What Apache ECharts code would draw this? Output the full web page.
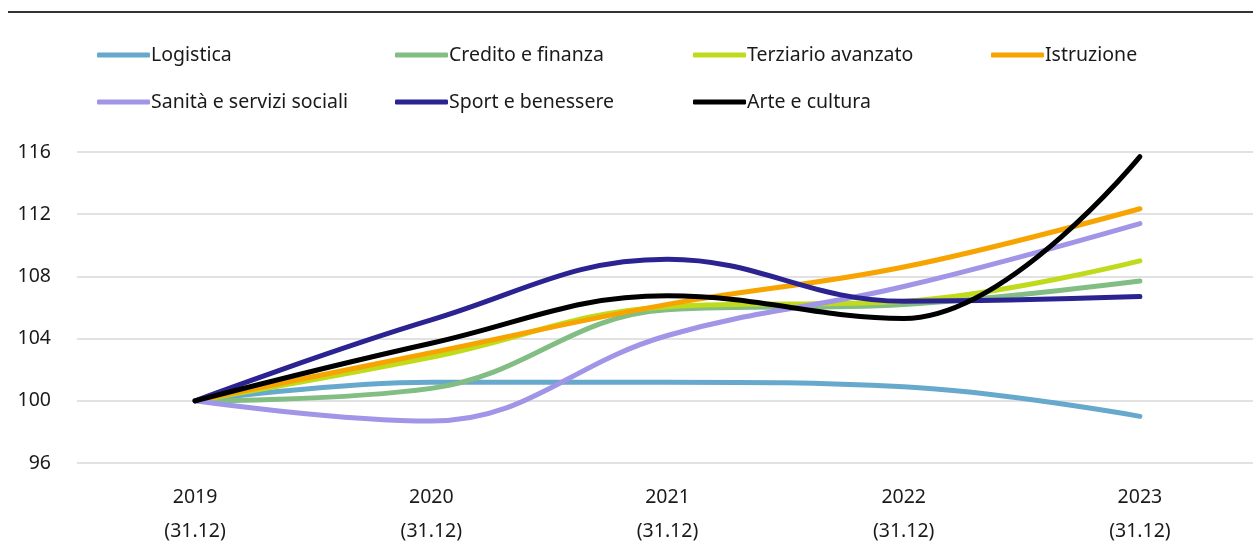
<!DOCTYPE html>
<html><head><meta charset="utf-8">
<script src="https://cdn.jsdelivr.net/npm/echarts@6/dist/echarts.min.js"></script>
<style>html,body{margin:0;padding:0;background:#fff}#c{width:1253px;height:543px}</style>
</head><body><div id="c"></div>
<script>
const categories = ['2019\n(31.12)', '2020\n(31.12)', '2021\n(31.12)', '2022\n(31.12)', '2023\n(31.12)'];
const yTicks = [96, 100, 104, 108, 112, 116];
const logistica = [100, 101.2, 101.2, 100.9, 99.0];
const credito = [100, 100.8, 105.85, 106.2, 107.7];
const terziario = [100, 102.8, 106.05, 106.4, 109.0];
const istruzione = [100, 103.1, 106.2, 108.6, 112.35];
const sanita = [100, 98.7, 104.2, 107.35, 111.4];
const sport = [100, 105.2, 109.1, 106.4, 106.7];
const arte = [100, 103.7, 106.75, 105.3, 115.7];
const names = ['Logistica', 'Credito e finanza', 'Terziario avanzato', 'Istruzione', 'Sanità e servizi sociali', 'Sport e benessere', 'Arte e cultura'];
const colors = ['#67a8cd', '#82bd83', '#c0db1c', '#f7a400', '#a095e6', '#2b2391', '#000000'];
const values = [logistica, credito, terziario, istruzione, sanita, sport, arte];

const FONT = 'Noto Sans';
const legendPos = [[97, 45], [395, 45], [693, 45], [991, 45], [97, 92], [395, 92], [693, 92]];
const chart = echarts.init(document.getElementById('c'));
chart.setOption({
  animation: false,
  textStyle: { fontFamily: FONT },
  graphic: [{ type: 'line', shape: { x1: 8, y1: 12, x2: 1253, y2: 12 }, style: { stroke: '#333', lineWidth: 2 } }],
  legend: names.map((n, i) => ({
    data: [n], left: legendPos[i][0], top: legendPos[i][1],
    itemWidth: 53, itemHeight: 5, itemGap: 0, padding: 0,
    icon: 'roundRect',
    textStyle: { fontFamily: FONT, fontSize: 19.5, color: '#1a1a1a', padding: [0, 0, 0, -4] }
  })),
  grid: { left: 77, right: -5, top: 152, bottom: 80, containLabel: false, outerBoundsMode: 'none' },
  xAxis: {
    type: 'category', data: categories, boundaryGap: true,
    axisLine: { show: false }, axisTick: { show: false },
    axisLabel: { fontFamily: FONT, fontSize: 19.5, color: '#1a1a1a', lineHeight: 34, margin: 17 }
  },
  yAxis: {
    type: 'value', min: yTicks[0], max: yTicks[yTicks.length - 1], interval: 4,
    axisLine: { show: false }, axisTick: { show: false },
    axisLabel: { fontFamily: FONT, fontSize: 19.5, color: '#1a1a1a', margin: 26 },
    splitLine: { lineStyle: { color: '#d9d9d9', width: 1.5 } }
  },
  series: names.map((n, i) => ({
    name: n, type: 'line', data: values[i], smooth: 0.4, symbol: 'none',
    lineStyle: { color: colors[i], width: 5, cap: 'round' },
    itemStyle: { color: colors[i] }, z: 2 + i
  }))
});
</script></body></html>
